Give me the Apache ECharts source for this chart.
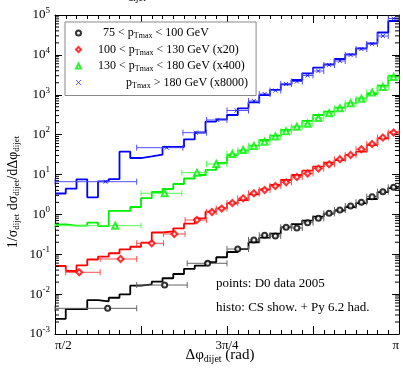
<!DOCTYPE html>
<html><head><meta charset="utf-8">
<script src="https://cdn.jsdelivr.net/npm/echarts@6/dist/echarts.min.js"></script>
<style>html,body{margin:0;padding:0;background:#fff}#c{width:403px;height:368px}</style>
</head><body><div id="c"></div>
<script>
// x unit: delta-phi in units of pi/64 (32 = pi/2, 48 = 3pi/4, 64 = pi)
const histEdges = [32,33,34,35,36,37,38,39,40,41,42,43,44,45,46,47,48,49,50,51,52,53,54,55,56,57,58,59,60,61,62,63,64];
const xTickLabels = {32:'π/2', 48:'3π/4', 64:'π'};

// histograms (CS shower + Pythia 6.2 hadronisation)
const histBlack = [0.0024,0.0042,0.0042,0.0071,0.0066,0.0081,0.0099,0.0163,0.0176,0.0205,0.025,0.032,0.043,0.052,0.063,0.084,0.114,0.135,0.20,0.26,0.33,0.47,0.57,0.70,0.88,1.05,1.25,1.53,1.93,2.43,3.64,4.59];
const histRed   = [0.0507,0.0380,0.0528,0.0738,0.0868,0.106,0.132,0.154,0.195,0.351,0.376,0.448,0.584,0.797,1.17,1.42,1.90,2.29,3.19,4.25,5.45,7.28,9.72,12.5,15.7,19.8,23.1,30.8,37.3,54.9,80.9,114];
const histGreen = [0.564,0.520,0.520,0.618,0.511,1.22,1.22,1.53,2.57,3.64,4.33,5.78,7.94,9.72,13.0,19.4,30.8,39.5,52.8,73.3,94.0,131,158,220,311,376,473,611,815,1044,1687,2953];
const histBlue  = [3.34,4.41,7.58,2.68,6.75,7.62,37.3,25.9,28.6,31.7,48.9,48.9,76.4,113,213,240,311,457,647,986,1316,1829,2344,3451,4769,5801,7880,10340,14620,19520,36400,70700];

// D0 data 2005 points: x, x-range low, x-range high, value
const ptBlackX  = [36.9,42.2,46.2,49.0,50.5,51.5,52.5,53.5,54.5,55.5,56.5,57.5,58.5,59.5,60.5,61.5,62.5,63.5];
const ptBlackLo = [32,39.6,44.3,48,50,51,52,53,54,55,56,57,58,59,60,61,62,63];
const ptBlackHi = [39.6,44.3,48,50,51,52,53,54,55,56,57,58,59,60,61,62,63,64];
const ptBlackY  = [0.0044,0.0169,0.0593,0.135,0.228,0.30,0.287,0.474,0.455,0.618,0.797,1.06,1.29,1.62,2.01,2.78,3.70,4.78];

const ptRedX  = [34.25,38.1,41.0,43.1,45.2,46.6,47.5,48.5,49.5,50.5,51.5,52.5,53.5,54.5,55.5,56.5,57.5,58.5,59.5,60.5,61.5,62.5,63.5];
const ptRedLo = [33,36.2,39.6,42.1,44.1,46.1,47,48,49,50,51,52,53,54,55,56,57,58,59,60,61,62,63];
const ptRedHi = [36.2,39.6,42.1,44.1,46.1,47,48,49,50,51,52,53,54,55,56,57,58,59,60,61,62,63,64];
const ptRedY  = [0.0353,0.076,0.188,0.322,0.723,1.147,1.40,1.93,2.53,3.38,4.09,5.15,6.37,8.66,10.6,14.1,18.0,24.1,30.8,42.9,58.2,84.7,113];

const ptGreenX  = [37.6,42.2,45.2,47.0,48.5,49.5,50.5,51.5,52.5,53.5,54.5,55.5,56.5,57.5,58.5,59.5,60.5,61.5,62.5,63.5];
const ptGreenLo = [32,40,43.8,46.1,48,49,50,51,52,53,54,55,56,57,58,59,60,61,62,63];
const ptGreenHi = [40,43.8,46.1,48,49,50,51,52,53,54,55,56,57,58,59,60,61,62,63,64];
const ptGreenY  = [0.520,3.38,11.1,18.3,32.7,41.2,51.9,66.5,89.7,121,158,188,261,343,457,611,796,1139,1564,2787];

const ptBlueX  = [36.7,42.4,45.1,47.1,48.9,50.5,51.5,52.5,53.5,54.5,55.5,56.5,57.5,58.5,59.5,60.5,61.5,62.5,63.5];
const ptBlueLo = [32,39.6,43.9,46.1,48,50,51,52,53,54,55,56,57,58,59,60,61,62,63];
const ptBlueHi = [39.6,43.9,46.1,48,50,51,52,53,54,55,56,57,58,59,60,61,62,63,64];
const ptBlueY  = [6.60,47.0,112,233,403,697,1044,1278,1861,2149,3039,3941,5574,7022,9929,14040,18740,29750,81700];

const legendNames = ['75 < pTmax < 100 GeV','100 < pTmax < 130 GeV (x20)','130 < pTmax < 180 GeV (x400)','pTmax > 180 GeV (x8000)'];
const legendRich = {
  '75 < pTmax < 100 GeV': '{w1| }{n|75 < p}{s|Tmax}{n| < 100 GeV}',
  '100 < pTmax < 130 GeV (x20)': '{w2| }{n|100 < p}{s|Tmax}{n| < 130 GeV (x20)}',
  '130 < pTmax < 180 GeV (x400)': '{w2| }{n|130 < p}{s|Tmax}{n| < 180 GeV (x400)}',
  'pTmax > 180 GeV (x8000)': '{w4| }{n|p}{s|Tmax}{n| > 180 GeV (x8000)}'
};
const minorMults = [2,3,4,5,6,7,8,9];
const decades = [-3,-2,-1,0,1,2,3,4];

const SERIF = 'Liberation Serif';
const minorTickVals = [];
decades.forEach(d => minorMults.forEach(m => minorTickVals.push([m * Math.pow(10, d)])));

function histData(vals){
  return histEdges.map((e,i) => [e, vals[Math.min(i, vals.length-1)]]);
}
function ptData(x, lo, hi, y){ return x.map((v,i) => [v, y[i]]); }
function errData(x, lo, hi, y){ return x.map((v,i) => [lo[i], hi[i], y[i]]); }
function errRender(color){
  return function(params, api){
    const a = api.coord([api.value(0), api.value(2)]);
    const b = api.coord([api.value(1), api.value(2)]);
    const cap = 3;
    const st = {stroke: color, lineWidth: 1};
    return {type:'group', children:[
      {type:'line', shape:{x1:a[0], y1:a[1], x2:b[0], y2:b[1]}, style:st},
      {type:'line', shape:{x1:a[0], y1:a[1]-cap, x2:a[0], y2:a[1]+cap}, style:st},
      {type:'line', shape:{x1:b[0], y1:b[1]-cap, x2:b[0], y2:b[1]+cap}, style:st}
    ]};
  };
}

const colors = {black:'#000000', red:'#ff0000', green:'#00ee00', blue:'#0000ff'};
const errColors = {black:'#666666', red:'#ff5050', green:'#50ff50', blue:'#5050ff'};

const chart = echarts.init(document.getElementById('c'), null, {renderer:'canvas'});

function xAxisCfg(pos){
  return {
    type:'value', min:32, max:64, interval:8, position:pos,
    axisLine:{show:true, onZero:false, lineStyle:{color:'#000', width:1}},
    axisTick:{show:true, inside:true, length:8, lineStyle:{color:'#000'}},
    minorTick:{show:true, splitNumber:8, length:4, lineStyle:{color:'#000'}},
    splitLine:{show:false},
    axisLabel:{show: pos==='bottom', margin:5, fontFamily:SERIF, fontSize:13, color:'#000',
      alignMinLabel:'left', alignMaxLabel:'right',
      formatter: v => xTickLabels[v] || ''}
  };
}
function yAxisCfg(pos){
  return {
    type:'log', logBase:10, min:1e-3, max:1e5, interval:1, position:pos,
    axisLine:{show:true, onZero:false, lineStyle:{color:'#000', width:1}},
    axisTick:{show:true, inside:true, length:7, lineStyle:{color:'#000'}},
    minorTick:{show:false},
    splitLine:{show:false},
    axisLabel:{show: pos==='left', margin:5, color:'#000',
      formatter: v => '{b|10}{e|' + Math.round(Math.log10(v)) + '}',
      rich:{
        b:{fontFamily:SERIF, fontSize:13, color:'#000'},
        e:{fontFamily:SERIF, fontSize:9, color:'#000', padding:[0,0,9,0]}
      }}
  };
}

const series = [];
[['black',histBlack],['red',histRed],['green',histGreen],['blue',histBlue]].forEach(([c,v]) => {
  series.push({type:'line', name:'histo '+c, step:'end', data:histData(v), showSymbol:false,
    lineStyle:{color:colors[c], width:1.8}, itemStyle:{color:colors[c]}, z:3, silent:true, animation:false});
});
const ptSets = [
  ['black', ptBlackX, ptBlackLo, ptBlackHi, ptBlackY, 'emptyCircle', 5, legendNames[0]],
  ['red', ptRedX, ptRedLo, ptRedHi, ptRedY, 'emptyDiamond', 6, legendNames[1]],
  ['green', ptGreenX, ptGreenLo, ptGreenHi, ptGreenY, 'emptyTriangle', 6, legendNames[2]],
  ['blue', ptBlueX, ptBlueLo, ptBlueHi, ptBlueY, 'path://M0,0L10,10M10,0L0,10', 4, legendNames[3]]
];
ptSets.forEach(([c,x,lo,hi,y,sym,size,name]) => {
  series.push({type:'custom', name:'err '+c, renderItem:errRender(errColors[c]), data:errData(x,lo,hi,y),
    z:4, silent:true, animation:false, encode:{x:[0,1], y:2}});
  const isPath = sym.indexOf('path://') === 0;
  series.push({type:'scatter', name:name, data:ptData(x,lo,hi,y), symbol:sym, symbolSize:size,
    itemStyle: isPath ? {color:'rgba(0,0,0,0)', borderColor:colors[c], borderWidth:1} : {color:colors[c], borderColor:colors[c], borderWidth:0.9},
    z:5, silent:true, animation:false});
});
// minor log ticks on left and right axes
series.push({type:'custom', name:'minor ticks', silent:true, animation:false, z:6,
  data:minorTickVals, encode:{y:0},
  renderItem:function(params, api){
    const v = api.value(0);
    const l = api.coord([32, v]);
    const r = api.coord([64, v]);
    const st = {stroke:'#000', lineWidth:1};
    return {type:'group', children:[
      {type:'line', shape:{x1:l[0], y1:l[1], x2:l[0]+4, y2:l[1]}, style:st},
      {type:'line', shape:{x1:r[0]-4, y1:r[1], x2:r[0], y2:r[1]}, style:st}
    ]};
  }});

chart.setOption({
  animation:false,
  backgroundColor:'#fff',
  grid:{left:55, right:4, top:15, bottom:34, containLabel:false},
  xAxis:[xAxisCfg('bottom'), xAxisCfg('top')],
  yAxis:[yAxisCfg('left'), yAxisCfg('right')],
  legend:{
    show:true, orient:'vertical', left:65, top:22,
    data:legendNames,
    padding:[5,8,6,10], itemGap:3.5, itemWidth:5, itemHeight:5,
    itemStyle:{borderWidth:0.8},
    borderColor:'#888', borderWidth:1, backgroundColor:'#fff',
    selectedMode:false,
    formatter: n => legendRich[n],
    textStyle:{
      rich:{
        n:{fontFamily:SERIF, fontSize:12, color:'#000'},
        s:{fontFamily:SERIF, fontSize:8, color:'#000', padding:[6,0,0,0]},
        w1:{width:17}, w2:{width:12}, w4:{width:40}
      }
    }
  },
  graphic:[
    {type:'text', left:128, top:-7, style:{text:'dijet', font:'10px "Liberation Serif"', fill:'#000'}},
    {type:'text', left:216, top:277, style:{text:'points: D0 data 2005', font:'13px "Liberation Serif"', fill:'#000'}},
    {type:'text', left:216, top:301, style:{text:'histo: CS show. + Py 6.2 had.', font:'13px "Liberation Serif"', fill:'#000'}},
    {type:'text', x:220, y:355, style:{
      text:'{n|Δφ}{s|dijet}{n| (rad)}', align:'center', verticalAlign:'middle',
      rich:{n:{fontFamily:SERIF, fontSize:15, fill:'#000'}, s:{fontFamily:SERIF, fontSize:10, fill:'#000', padding:[8,0,0,0]}}}},
    {type:'text', x:13, y:192, rotation:Math.PI/2, style:{
      text:'{n|1/σ}{s|dijet}{n| dσ}{s|dijet}{n|/dΔφ}{s|dijet}', align:'center', verticalAlign:'middle',
      rich:{n:{fontFamily:SERIF, fontSize:14, fill:'#000'}, s:{fontFamily:SERIF, fontSize:9, fill:'#000', padding:[7,0,0,0]}}}}
  ],
  series:series
});
</script></body></html>
